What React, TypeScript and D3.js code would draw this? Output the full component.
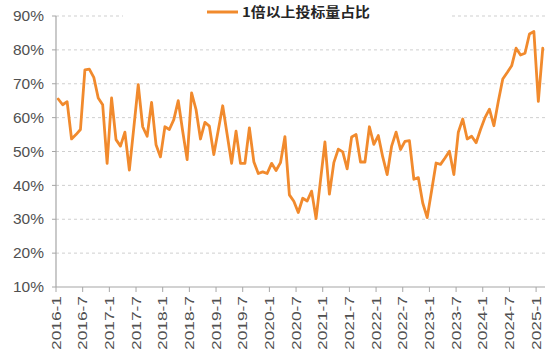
import React from "react";
import * as d3 from "d3";

const seriesName = "1倍以上投标量占比";

const values: number[] = [
  65.5, 63.8, 64.7, 53.7, 55.0, 56.5, 74.1, 74.3, 71.9, 65.8, 63.8, 46.5,
  65.8, 53.5, 51.6, 55.7, 44.5, 57.0, 69.7, 57.3, 54.5, 64.5, 52.0, 48.4,
  57.3, 56.5, 59.4, 65.0, 56.0, 47.6, 67.3, 62.4, 53.7, 58.6, 57.5, 49.1,
  56.3, 63.5, 55.0, 46.5, 56.0, 46.5, 46.5, 57.0, 47.0, 43.5, 44.0, 43.5,
  46.5, 44.4, 46.7, 54.4, 37.2, 35.3, 32.0, 36.2, 35.4, 38.3, 30.2, 41.5,
  52.8, 37.4, 46.7, 50.7, 49.9, 44.9, 54.3, 55.0, 46.9, 46.9, 57.3, 52.1,
  54.7, 48.4, 43.2, 51.6, 55.7, 50.6, 53.0, 53.2, 41.8, 42.3, 34.8, 30.5,
  38.5, 46.6, 46.2, 48.1, 50.1, 43.2, 55.7, 59.6, 53.7, 54.5, 52.6, 56.5,
  60.0, 62.5, 57.6, 64.8, 71.4, 73.3, 75.3, 80.5, 78.5, 79.0, 84.7, 85.4,
  64.8, 80.5,
];

const months: string[] = values.map(
  (_, i) => `${2016 + Math.floor(i / 12)}-${(i % 12) + 1}`
);

const tickLabels: string[] = [
  "2016-1", "2016-7", "2017-1", "2017-7", "2018-1", "2018-7", "2019-1",
  "2019-7", "2020-1", "2020-7", "2021-1", "2021-7", "2022-1", "2022-7",
  "2023-1", "2023-7", "2024-1", "2024-7", "2025-1",
];

const yTicks: number[] = [10, 20, 30, 40, 50, 60, 70, 80, 90];

export default function App() {
  const W = 554;
  const H = 354;
  const left = 56;
  const right = 545;
  const top = 16;
  const bottom = 287;
  const font = "'Liberation Sans', Arial, sans-serif";
  const orange = "#f18a2d";
  const textColor = "#505050";
  const axisColor = "#a6a6a6";

  const x = d3.scaleBand<string>().domain(months).range([left, right]).padding(0);
  const y = d3.scaleLinear().domain([10, 90]).range([bottom, top]);

  const line = d3
    .line<number>()
    .x((_, i) => (x(months[i]) as number) + x.bandwidth() / 2)
    .y((d) => y(d));

  return (
    <svg
      width={W}
      height={H}
      style={{ position: "absolute", left: 0, top: 0, background: "#fff" }}
      fontFamily={font}
    >
      {yTicks.filter((t) => t !== 10).map((t) => (
        <line
          key={"g" + t}
          x1={left}
          x2={right}
          y1={y(t)}
          y2={y(t)}
          stroke="#cfcfcf"
          strokeWidth={1}
          strokeDasharray="3,3"
        />
      ))}
      <line x1={left} x2={left} y1={top} y2={bottom} stroke={axisColor} strokeWidth={1.2} />
      {yTicks.map((t) => (
        <g key={"y" + t}>
          <line x1={left - 4} x2={left} y1={y(t)} y2={y(t)} stroke={axisColor} />
          <text
            x={44}
            y={y(t)}
            dy="0.36em"
            textAnchor="end"
            fontSize={14.5}
            fill={textColor}
            textLength={31}
            lengthAdjust="spacingAndGlyphs"
          >
            {t + "%"}
          </text>
        </g>
      ))}
      <line x1={left} x2={right} y1={bottom} y2={bottom} stroke={axisColor} strokeWidth={1.2} />
      {tickLabels.map((lab) => {
        const tx = x(lab) as number;
        return (
          <g key={lab}>
            <line x1={tx} x2={tx} y1={bottom} y2={bottom + 5} stroke={axisColor} />
            <text
              transform={`translate(${tx},296) rotate(-90)`}
              dy="0.36em"
              textAnchor="end"
              fontSize={13}
              fill={textColor}
              textLength={54}
              lengthAdjust="spacingAndGlyphs"
            >
              {lab}
            </text>
          </g>
        );
      })}
      <path
        d={line(values) || ""}
        fill="none"
        stroke={orange}
        strokeWidth={2.8}
        strokeLinejoin="round"
        strokeLinecap="round"
      />
      <rect x={123} y={3} width={328} height={22} fill="#fff" />
      <line x1={207} x2={238} y1={12} y2={12} stroke={orange} strokeWidth={3} />
      <text
        x={242}
        y={17}
        fontSize={13.5}
        fontWeight="bold"
        fill="#262626"
        textLength={128}
        lengthAdjust="spacingAndGlyphs"
        fontFamily="'Noto Sans CJK SC', 'Liberation Sans', sans-serif"
      >
        {seriesName}
      </text>
    </svg>
  );
}
